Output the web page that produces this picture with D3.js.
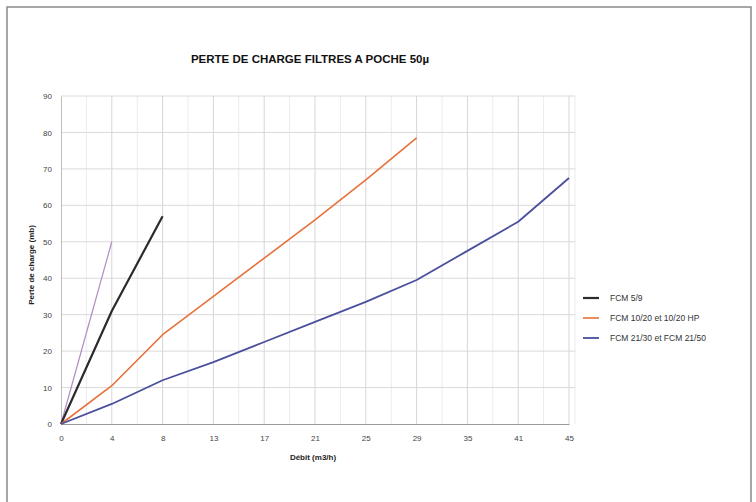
<!DOCTYPE html>
<html>
<head>
<meta charset="utf-8">
<script src="https://cdn.jsdelivr.net/npm/d3@7"></script>
<style>
  body { margin: 0; background: #fff; }
  text { font-family: "Liberation Sans", Arial, sans-serif; }
</style>
</head>
<body>
<svg id="chart"></svg>
<script>
const xLabels = ['0', '4', '8', '13', '17', '21', '25', '29', '35', '41', '45'];
const yTicks = [0, 10, 20, 30, 40, 50, 60, 70, 80, 90];

const purple = [0, 50];
const fcm59 = [0, 31, 57];
const fcm1020 = [0, 10.5, 24.5, 35, 45.5, 56, 67, 78.5];
const fcm2130 = [0, 5.5, 12, 17, 22.5, 28, 33.5, 39.5, 47.5, 55.5, 67.5];

const series = [
  { name: null, values: purple, color: '#b28bc4', width: 1.2 },
  { name: 'FCM 5/9', values: fcm59, color: '#2b2b2b', width: 2.2 },
  { name: 'FCM 10/20 et 10/20 HP', values: fcm1020, color: '#e8703a', width: 1.6 },
  { name: 'FCM 21/30 et FCM 21/50', values: fcm2130, color: '#4b4f9c', width: 1.8 }
];

const w = 756, h = 502;
const svg = d3.select('#chart').attr('width', w).attr('height', h);

// frame
svg.append('rect')
  .attr('x', 7).attr('y', 7)
  .attr('width', 744).attr('height', 520)
  .attr('fill', 'none').attr('stroke', '#8a8a8a').attr('stroke-width', 1.5);

const pLeft = 61, pRight = 569, pTop = 96, pBottom = 424;

const x = d3.scalePoint().domain(d3.range(xLabels.length)).range([pLeft, pRight]);
const y = d3.scaleLinear().domain([0, 90]).range([pBottom, pTop]);
const step = x.step();

// vertical grid (major at ticks, minor halfway)
const g = svg.append('g');
d3.range(xLabels.length).forEach(i => {
  if (i > 0) g.append('line')
    .attr('x1', x(i)).attr('x2', x(i)).attr('y1', pTop).attr('y2', pBottom)
    .attr('stroke', '#d6d6d6');
  if (i < xLabels.length - 1) g.append('line')
    .attr('x1', x(i) + step / 2).attr('x2', x(i) + step / 2).attr('y1', pTop).attr('y2', pBottom)
    .attr('stroke', '#ececec');
});
g.append('line')
  .attr('x1', pRight + 6).attr('x2', pRight + 6).attr('y1', pTop).attr('y2', pBottom)
  .attr('stroke', '#ececec');

// horizontal grid
yTicks.forEach(t => {
  if (t > 0) g.append('line')
    .attr('x1', pLeft).attr('x2', pRight + 6).attr('y1', y(t)).attr('y2', y(t))
    .attr('stroke', '#dadada');
});

// axes
const yAxis = svg.append('g')
  .attr('transform', `translate(${pLeft},0)`)
  .call(d3.axisLeft(y).tickValues(yTicks).tickSize(0).tickPadding(9));
yAxis.select('.domain').attr('stroke', '#bdbdbd');

const xAxis = svg.append('g')
  .attr('transform', `translate(0,${pBottom})`)
  .call(d3.axisBottom(x).tickFormat(i => xLabels[i]).tickSize(0).tickPadding(11));
xAxis.select('.domain').attr('stroke', '#9a9a9a');

svg.selectAll('.tick text')
  .attr('fill', '#444').style('font-size', '8px');

// lines
const line = d3.line().x((d, i) => x(i)).y(d => y(d));
series.forEach(s => {
  svg.append('path')
    .datum(s.values)
    .attr('d', line)
    .attr('fill', 'none')
    .attr('stroke', s.color)
    .attr('stroke-width', s.width)
    .attr('stroke-linejoin', 'round');
});

// title
svg.append('text')
  .attr('x', 310).attr('y', 63)
  .attr('text-anchor', 'middle')
  .style('font-size', '11.5px').style('font-weight', 'bold')
  .attr('fill', '#111')
  .text('PERTE DE CHARGE FILTRES A POCHE 50µ');

// axis titles
svg.append('text')
  .attr('transform', `translate(34,${(pTop + pBottom) / 2 + 5}) rotate(-90)`)
  .attr('text-anchor', 'middle')
  .style('font-size', '8px').style('font-weight', 'bold')
  .attr('fill', '#222')
  .text('Perte de charge (mb)');

svg.append('text')
  .attr('x', 313).attr('y', 460)
  .attr('text-anchor', 'middle')
  .style('font-size', '8px').style('font-weight', 'bold')
  .attr('fill', '#222')
  .text('Débit (m3/h)');

// legend
const legend = svg.append('g').attr('transform', 'translate(583,298)');
series.filter(s => s.name).forEach((s, i) => {
  const row = legend.append('g').attr('transform', `translate(0,${i * 20})`);
  row.append('line').attr('x1', 0).attr('x2', 16).attr('y1', 0).attr('y2', 0)
    .attr('stroke', s.color).attr('stroke-width', s.width);
  row.append('text').attr('x', 27).attr('y', 3)
    .style('font-size', '8.5px').attr('fill', '#333').text(s.name);
});
</script>
</body>
</html>
